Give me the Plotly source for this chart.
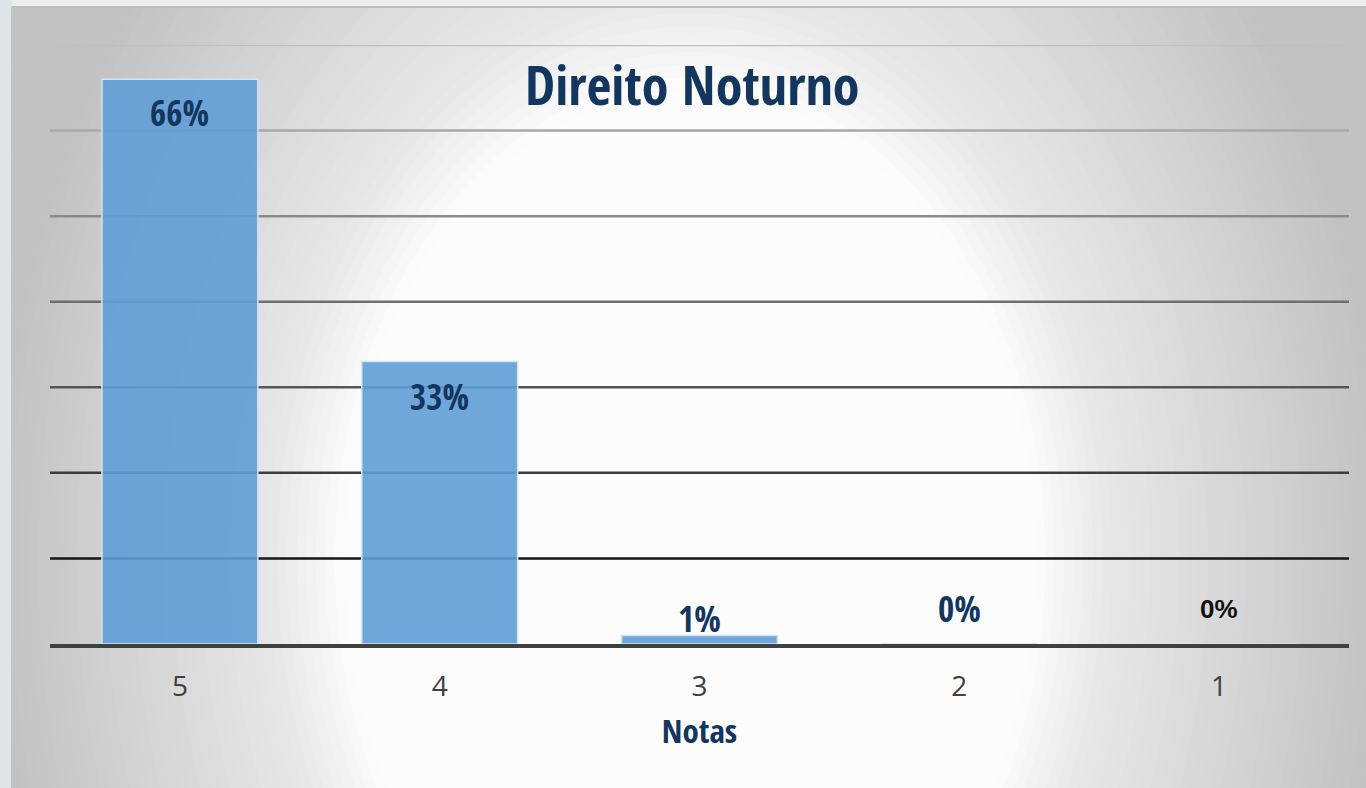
import plotly.graph_objects as go

# ---- data ----
categories = ["5", "4", "3", "2", "1"]
values = [66, 33, 1, 0, 0]
labels = ["66%", "33%", "1%", "0%", "0%"]
grid_values = [10, 20, 30, 40, 50, 60, 70]
title_text = "Direito Noturno"
x_title = "Notas"

# ---- styling ----
W, H = 1366, 788
ML, MR, MT, MB = 50, 17, 45, 144
NAVY = "#12365e"
COND = "Open Sans Condensed, DejaVu Sans Condensed, sans-serif"

label_shift = [-33, -35, 17, 36, 35]
label_color = [NAVY, NAVY, NAVY, NAVY, "#111111"]
label_font = [COND, COND, COND, COND, "Liberation Sans, Arial, sans-serif"]
label_size = [35, 35, 35, 35, 26]
grid_colors = ["#151515", "#3c3c3c", "#555555", "#6e6e6e", "#8a8a8a", "#a8a8a8", "#c0c0c0"]

fig = go.Figure()
fig.add_trace(go.Bar(
    x=list(range(len(categories))), y=values,
    marker=dict(color="rgba(96,157,214,0.9)", line=dict(color="#d3e3f3", width=1.5)),
    width=0.6, hoverinfo="skip",
))

pw = W - ML - MR
ph = H - MT - MB


def px2paper_x(px):
    return (px - ML) / pw


def px2paper_y(py):
    return (H - MB - py) / ph


def bg_level(r):
    if r <= 0.50:
        return 252
    if r <= 0.60:
        return 252 - (r - 0.50) / 0.10 * 20
    if r <= 1.0:
        return 232 - (r - 0.60) / 0.40 * 38
    return 194


shapes = []
cx, cy, rx, ry = 690, 560, 700, 950
N = 60
for i in range(N + 1):
    r = 1.3 - (1.3 - 0.48) * i / N
    g = int(round(bg_level(r)))
    shapes.append(dict(
        type="circle", xref="paper", yref="paper", layer="below",
        x0=px2paper_x(cx - rx * r), x1=px2paper_x(cx + rx * r),
        y0=px2paper_y(cy + ry * r), y1=px2paper_y(cy - ry * r),
        fillcolor=f"rgb({g},{g},{g})", line=dict(width=0),
    ))
shapes.append(dict(type="rect", xref="paper", yref="paper", layer="below",
                   x0=px2paper_x(0), x1=px2paper_x(12), y0=px2paper_y(H), y1=px2paper_y(0),
                   fillcolor="#dde5e8", line=dict(width=0)))
shapes.append(dict(type="rect", xref="paper", yref="paper", layer="below",
                   x0=px2paper_x(12), x1=px2paper_x(W), y0=px2paper_y(7), y1=px2paper_y(0),
                   fillcolor="#e9eef0", line=dict(width=0)))
shapes.append(dict(type="line", xref="paper", yref="paper", layer="below",
                   x0=px2paper_x(12), x1=px2paper_x(W), y0=px2paper_y(7), y1=px2paper_y(7),
                   line=dict(color="#bdbdbd", width=2)))
shapes.append(dict(type="line", xref="paper", yref="paper", layer="below",
                   x0=px2paper_x(12), x1=px2paper_x(12), y0=px2paper_y(H), y1=px2paper_y(7),
                   line=dict(color="#c4c4c4", width=2)))
for gv, gc in zip(grid_values, grid_colors):
    shapes.append(dict(type="line", xref="paper", yref="y", layer="below",
                       x0=0, x1=1, y0=gv, y1=gv, line=dict(color=gc, width=2.5)))

annotations = []
for i, (v, t, s, col, f, sz) in enumerate(zip(values, labels, label_shift,
                                             label_color, label_font, label_size)):
    annotations.append(dict(x=i, y=v, xref="x", yref="y", text=f"<b>{t}</b>",
                            showarrow=False, yshift=s, yanchor="middle",
                            font=dict(family=f, size=sz, color=col)))
annotations.append(dict(x=px2paper_x(692), y=px2paper_y(84), xref="paper", yref="paper",
                        text=f"<b>{title_text}</b>", showarrow=False, yanchor="middle",
                        font=dict(family=COND, size=54, color=NAVY)))

fig.update_layout(
    width=W, height=H,
    margin=dict(l=ML, r=MR, t=MT, b=MB),
    paper_bgcolor="#c4c4c4", plot_bgcolor="rgba(0,0,0,0)",
    shapes=shapes, annotations=annotations,
    showlegend=False, bargap=0.4,
    xaxis=dict(
        tickmode="array", tickvals=list(range(len(categories))), ticktext=categories,
        range=[-0.5, 4.5], showgrid=False, showline=True, linecolor="#404040",
        linewidth=4, ticks="", ticklabelstandoff=14, zeroline=False,
        tickfont=dict(family="Open Sans, Noto Sans, sans-serif", size=28, color="#404040"),
        title=dict(text=f"<b>{x_title}</b>", standoff=18,
                   font=dict(family=COND, size=33, color=NAVY)),
    ),
    yaxis=dict(range=[0, 70], showgrid=False, zeroline=False, showticklabels=False,
               ticks=""),
)

fig.write_html("out.html", config={"displayModeBar": False},
               post_script="document.body.style.margin='0px';")
